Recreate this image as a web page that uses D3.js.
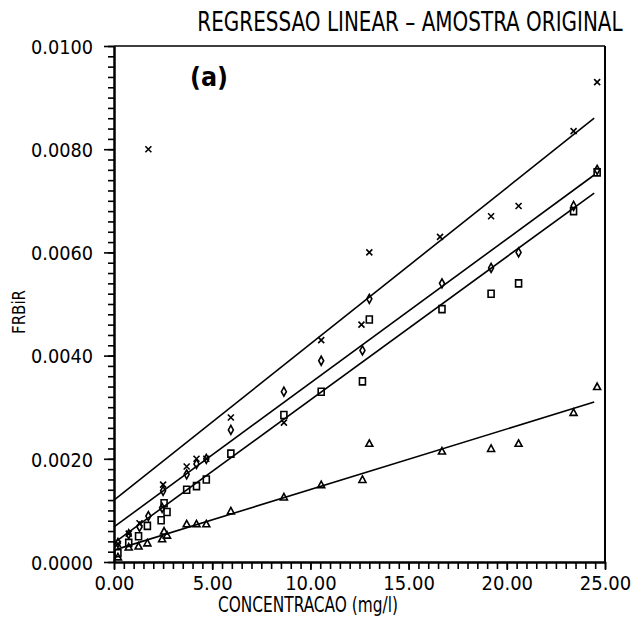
<!DOCTYPE html>
<html>
<head>
<meta charset="utf-8">
<script src="https://cdn.jsdelivr.net/npm/d3@7/dist/d3.min.js"></script>
<style>
  html, body { margin: 0; padding: 0; background: #fff; }
  svg { display: block; }
  text { font-family: "Liberation Sans Narrow", "DejaVu Sans Condensed", "Liberation Sans", Arial, sans-serif; fill: #000; }
</style>
</head>
<body>
<svg id="chart" width="631" height="621"></svg>
<script>
// ---------------- DATA ----------------
const title = "REGRESSAO LINEAR \u2013 AMOSTRA ORIGINAL";
const xLabel = "CONCENTRACAO (mg/l)";
const yLabel = "FRBiR";
const panelLabel = "(a)";

const xTickValues = [0, 5, 10, 15, 20, 25];
const xTickLabels = ["0.00", "5.00", "10.00", "15.00", "20.00", "25.00"];
const yTickValues = [0, 0.002, 0.004, 0.006, 0.008, 0.010];
const yTickLabels = ["0.0000", "0.0020", "0.0040", "0.0060", "0.0080", "0.0100"];

// series: cross (x), diamond, square, triangle  -> [concentration, FRBiR]
const crossPts = [
  [0.2, 0.00035], [0.75, 0.00055], [1.3, 0.00075], [1.75, 0.0080], [2.5, 0.0015],
  [3.7, 0.00185], [4.2, 0.0020], [4.7, 0.0020], [5.95, 0.0028], [8.65, 0.0027],
  [10.55, 0.0043], [12.6, 0.0046], [13.0, 0.0060], [16.6, 0.0063], [19.2, 0.0067],
  [20.6, 0.0069], [23.4, 0.00835], [24.6, 0.0093]
];
const diamondPts = [
  [0.2, 0.00037], [0.75, 0.00054], [1.3, 0.00068], [1.75, 0.00089], [2.45, 0.00105],
  [2.5, 0.00138], [3.7, 0.0017], [4.2, 0.0019], [4.7, 0.0020], [5.95, 0.00256],
  [8.65, 0.0033], [10.55, 0.0039], [12.65, 0.0041], [13.0, 0.0051], [16.7, 0.0054],
  [19.2, 0.0057], [20.6, 0.0060], [23.4, 0.0069], [24.6, 0.0076]
];
const squarePts = [
  [0.2, 0.00017], [0.75, 0.00037], [1.25, 0.0005], [1.7, 0.0007], [2.4, 0.00081],
  [2.55, 0.00114], [2.7, 0.00097], [3.7, 0.0014], [4.2, 0.00147], [4.7, 0.0016],
  [5.95, 0.0021], [8.65, 0.00285], [10.55, 0.0033], [12.65, 0.0035], [13.0, 0.0047],
  [16.7, 0.0049], [19.2, 0.0052], [20.6, 0.0054], [23.4, 0.0068], [24.6, 0.00755]
];
const trianglePts = [
  [0.2, 0.0001], [0.75, 0.00029], [1.25, 0.00031], [1.7, 0.00037], [2.45, 0.00045],
  [2.55, 0.0006], [2.7, 0.00052], [3.7, 0.00074], [4.2, 0.00074], [4.7, 0.00074],
  [5.95, 0.00099], [8.65, 0.00126], [10.55, 0.0015], [12.65, 0.0016], [13.0, 0.0023],
  [16.7, 0.00215], [19.2, 0.0022], [20.6, 0.0023], [23.4, 0.0029], [24.6, 0.0034]
];

// regression lines: value at x = 0 and at x = lineXEnd
const lineXEnd = 24.45;
const lineStart = [0.0012, 0.00068, 0.00037, 0.00023];
const lineEnd   = [0.0086, 0.0075, 0.00715, 0.0031];

// ---------------- CHART ----------------
const svg = d3.select("#chart");
const L = 114, R = 605, T = 46, B = 562;

const x = d3.scaleLinear().domain([0, 25]).range([L, R]);
const y = d3.scaleLinear().domain([0, 0.01]).range([B, T]);

// title (narrow natural width, stretched vertically)
svg.append("text").attr("transform", "translate(410,31) scale(1,1.2)")
  .attr("text-anchor", "middle")
  .attr("font-size", 22.2)
  .text(title);

// frame (top & right)
svg.append("line").attr("x1", x(0)).attr("x2", x(25)).attr("y1", y(0.01)).attr("y2", y(0.01))
  .attr("stroke", "#000").attr("stroke-width", 1.6);
svg.append("line").attr("x1", x(25)).attr("x2", x(25)).attr("y1", y(0.01)).attr("y2", y(0))
  .attr("stroke", "#000").attr("stroke-width", 2);

// x axis minor ticks
const xMinor = d3.range(0, 25.001, 0.5);
svg.append("g").attr("transform", `translate(0,${B})`)
  .call(d3.axisBottom(x).tickValues(xMinor).tickSize(7).tickSizeOuter(0).tickFormat(""));
// x axis major with labels
const gx = svg.append("g").attr("transform", `translate(0,${B})`)
  .call(d3.axisBottom(x).tickValues(xTickValues).tickSize(8).tickSizeOuter(0)
    .tickFormat((d, i) => xTickLabels[i]));
gx.selectAll("text").attr("font-size", 20).attr("dy", 0).attr("y", 28);

// y axis minor ticks
const yMinor = d3.range(0, 0.01001, 0.0002);
svg.append("g").attr("transform", `translate(${L},0)`)
  .call(d3.axisLeft(y).tickValues(yMinor).tickSize(6).tickSizeOuter(0).tickFormat(""));
const gy = svg.append("g").attr("transform", `translate(${L},0)`)
  .call(d3.axisLeft(y).tickValues(yTickValues).tickSize(10).tickSizeOuter(0)
    .tickFormat((d, i) => yTickLabels[i]));
gy.selectAll("text").attr("font-size", 20).attr("x", -21).attr("dy", "0.36em")
  .attr("textLength", 62).attr("lengthAdjust", "spacingAndGlyphs");

svg.selectAll(".domain").attr("stroke", "#000").attr("stroke-width", 2);
svg.selectAll(".tick line").attr("stroke", "#000").attr("stroke-width", 1.6);

// axis titles
svg.append("text").attr("x", 218).attr("y", 612)
  .attr("font-size", 21).attr("textLength", 180).attr("lengthAdjust", "spacingAndGlyphs")
  .text(xLabel);
svg.append("text").attr("transform", "translate(25,334) rotate(-90)")
  .attr("font-size", 18).attr("textLength", 44).attr("lengthAdjust", "spacingAndGlyphs")
  .text(yLabel);

// panel label
svg.append("text").attr("x", 190).attr("y", 86)
  .attr("font-size", 26).attr("font-weight", "bold")
  .attr("textLength", 38).attr("lengthAdjust", "spacingAndGlyphs")
  .text(panelLabel);

// regression lines
const lineGen = d3.line().x(d => x(d[0])).y(d => y(d[1]));
lineStart.forEach((s, i) => {
  svg.append("path")
    .attr("d", lineGen([[0, s], [lineXEnd, lineEnd[i]]]))
    .attr("fill", "none").attr("stroke", "#000").attr("stroke-width", 1.6);
});

// markers
const g = svg.append("g").attr("fill", "none").attr("stroke", "#000").attr("stroke-width", 1.6);
g.selectAll(".cross").data(crossPts).join("path")
  .attr("transform", d => `translate(${x(d[0])},${y(d[1])})`)
  .attr("d", "M-3,-3L3,3M-3,3L3,-3");
g.selectAll(".diamond").data(diamondPts).join("path")
  .attr("transform", d => `translate(${x(d[0])},${y(d[1])})`)
  .attr("d", "M0,-4.5L2.5,0L0,4.5L-2.5,0Z");
g.selectAll(".square").data(squarePts).join("path")
  .attr("transform", d => `translate(${x(d[0])},${y(d[1])})`)
  .attr("d", "M-3,-3.5H3V3.5H-3Z");
g.selectAll(".triangle").data(trianglePts).join("path")
  .attr("transform", d => `translate(${x(d[0])},${y(d[1])})`)
  .attr("d", "M0,-3.5L3.5,3L-3.5,3Z");
</script>
</body>
</html>
